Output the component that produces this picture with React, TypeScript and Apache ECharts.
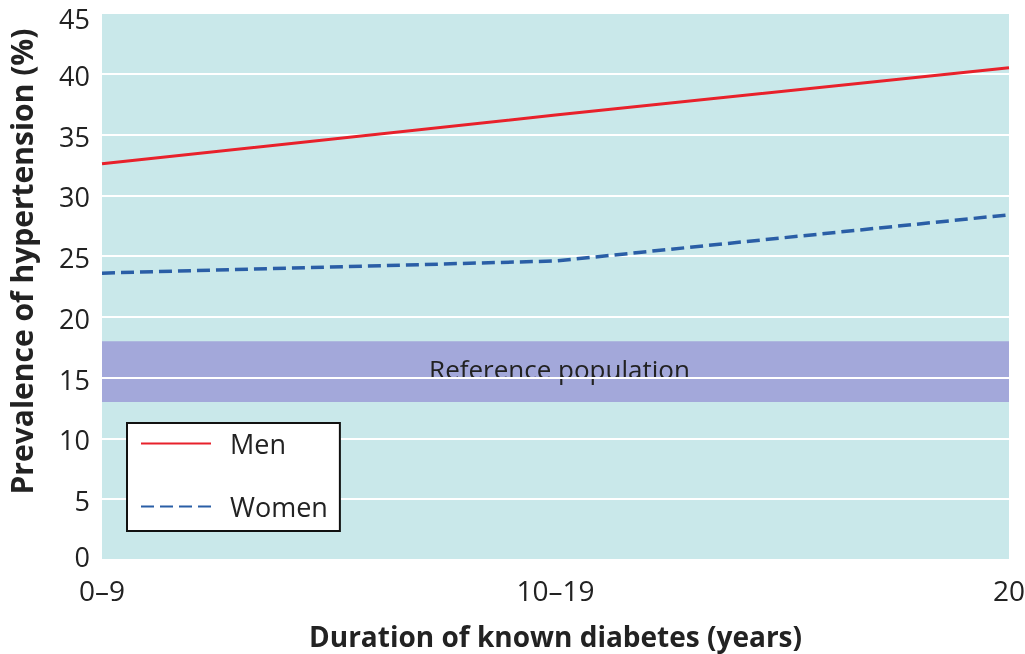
import React, { useEffect, useRef } from "react";
import * as echarts from "echarts";

const categories = ["0–9", "10–19", "20"];
const menValues = [32.6, 36.6, 40.5];
const womenValues = [23.6, 24.6, 28.4];
const referenceBand = [13, 18];
const referenceLabel = "Reference population";
const yMin = 0;
const yMax = 45;
const yInterval = 5;

export default function App() {
  const ref = useRef<HTMLDivElement>(null);
  useEffect(() => {
    if (!ref.current) return;
    const chart = echarts.init(ref.current, null, { renderer: "svg" });
    const font = "'Open Sans', 'Noto Sans', sans-serif";
    const labelBase = { fontSize: 27, color: "#222", fontFamily: font };
    chart.setOption({
      animation: false,
      textStyle: { fontFamily: font },
      grid: {
        left: 102,
        right: 16,
        top: 13,
        bottom: 94,
        show: true,
        backgroundColor: "#c9e8ea",
        borderWidth: 0,
        outerBoundsMode: "none",
        containLabel: false,
        z: 0,
      },
      legend: {
        left: 127,
        top: 423,
        orient: "vertical",
        backgroundColor: "#ffffff",
        borderColor: "#111111",
        borderWidth: 2,
        borderRadius: 0,
        padding: [7, 12, 11, 13],
        itemWidth: 70,
        itemHeight: 14,
        itemGap: 36,
        itemStyle: { opacity: 0, borderWidth: 0 },
        textStyle: { fontSize: 27, color: "#222", fontFamily: font, padding: [0, 0, 0, 14] },
        data: ["Men", "Women"],
      },
      xAxis: {
        type: "category",
        data: categories,
        boundaryGap: false,
        axisLine: { show: false },
        axisTick: { show: false },
        splitLine: { show: false },
        axisLabel: { fontSize: 28, lineHeight: 28, color: "#222", margin: 16, fontFamily: font },
        name: "Duration of known diabetes (years)",
        nameLocation: "middle",
        nameGap: 62,
        nameTextStyle: { fontSize: 28, fontWeight: "bold", color: "#222", fontFamily: font },
      },
      yAxis: {
        type: "value",
        min: yMin,
        max: yMax,
        interval: yInterval,
        z: 2,
        axisLine: { show: false },
        axisTick: { show: false },
        splitLine: { show: true, lineStyle: { color: "#ffffff", width: 2 } },
        axisLabel: {
          ...labelBase,
          lineHeight: 24,
          verticalAlign: "middle",
          margin: 12,
          formatter: (v: number) =>
            v === yMax ? `{top|${v}}` : v === yMin ? `{bot|${v}}` : `{mid|${v}}`,
          rich: {
            top: { ...labelBase, lineHeight: 24, padding: [10, 0, 0, 0] },
            bot: { ...labelBase, lineHeight: 24, padding: [0, 0, 8, 0] },
            mid: { ...labelBase, lineHeight: 24, padding: [3, 0, 0, 0] },
          },
        },
        name: "Prevalence of hypertension (%)",
        nameLocation: "middle",
        nameGap: 66,
        nameTextStyle: {
          fontSize: 30,
          fontWeight: "bold",
          color: "#222",
          fontFamily: font,
          padding: [0, 0, 0, 50],
        },
      },
      series: [
        {
          name: "band",
          type: "line",
          data: [],
          z: 1,
          silent: true,
          markArea: {
            silent: true,
            itemStyle: { color: "#a3a8da", opacity: 1 },
            label: {
              show: true,
              position: "inside",
              fontSize: 26,
              color: "#222",
              fontFamily: font,
              textBorderWidth: 0,
              offset: [4, -3],
            },
            data: [[{ yAxis: referenceBand[0], name: referenceLabel }, { yAxis: referenceBand[1] }]],
          },
        },
        {
          name: "Men",
          type: "line",
          data: menValues,
          z: 3,
          symbol: "none",
          lineStyle: { color: "#e8212b", width: 3 },
          itemStyle: { color: "#e8212b" },
        },
        {
          name: "Women",
          type: "line",
          data: womenValues,
          z: 3,
          symbol: "none",
          lineStyle: { color: "#2a5ea6", width: 3.5, type: [13, 6] },
          itemStyle: { color: "#2a5ea6" },
        },
      ],
    });
    return () => chart.dispose();
  }, []);
  return (
    <div
      ref={ref}
      style={{ position: "fixed", left: 0, top: 0, width: 1025, height: 654 }}
    />
  );
}
